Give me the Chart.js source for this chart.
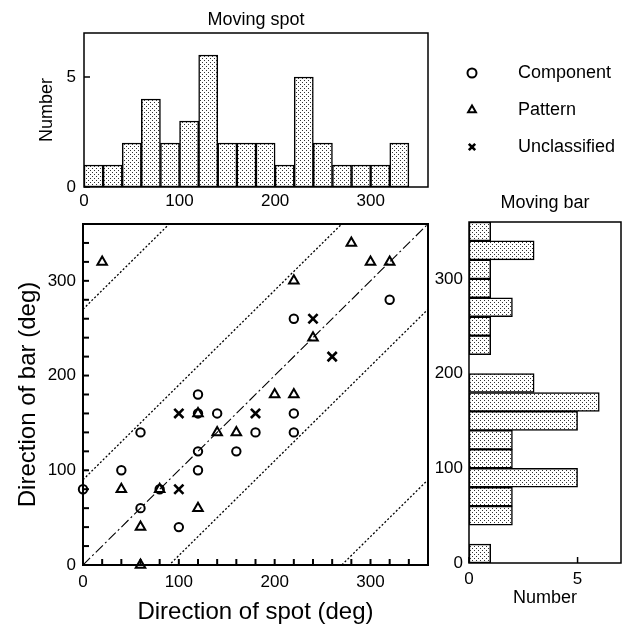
<!DOCTYPE html>
<html>
<head>
<meta charset="utf-8">
<script src="https://cdn.jsdelivr.net/npm/chart.js"></script>
<style>
  body { margin: 0; background: #fff; }
  #wrap { position: relative; width: 631px; height: 630px; background: #fff; }
  canvas { position: absolute; }
</style>
</head>
<body>
<div id="wrap">
  <canvas id="main" width="631" height="630" style="left:0;top:0"></canvas>
  <canvas id="spot" width="440" height="215" style="left:0;top:0"></canvas>
  <canvas id="bar" width="211" height="450" style="left:420px;top:180px"></canvas>
</div>
<script>
// scatter: direction of spot (x) vs direction of bar (y), in deg
const componentSpot = [0, 40, 60, 60, 80, 100, 120, 120, 120, 120, 140, 160, 180, 220, 220, 220, 320];
const componentBar  = [80, 100, 60, 140, 80, 40, 180, 160, 120, 100, 160, 120, 140, 260, 160, 140, 280];
const patternSpot = [20, 40, 60, 60, 80, 120, 120, 140, 160, 200, 220, 220, 240, 280, 300, 320];
const patternBar  = [320, 80, 40, 0, 80, 60, 160, 140, 140, 180, 180, 300, 240, 340, 320, 320];
const unclassSpot = [100, 100, 180, 240, 260];
const unclassBar  = [160, 80, 160, 260, 220];

// reference lines: bar = spot + offset
const lineOffsets = [-270, -90, 90, 270];
const lineEnds = [0, 360];

// histograms, 20 deg bins
const binStarts = [0, 20, 40, 60, 80, 100, 120, 140, 160, 180, 200, 220, 240, 260, 280, 300, 320, 340];
const spotCounts = [1, 1, 2, 4, 2, 3, 6, 2, 2, 2, 1, 5, 2, 1, 1, 1, 2, 0];
const barCounts  = [1, 0, 2, 2, 5, 2, 2, 5, 6, 3, 0, 1, 1, 2, 1, 1, 3, 1];

Chart.defaults.font.family = '"Liberation Sans", Arial, Helvetica, sans-serif';
Chart.defaults.color = '#000';

function stipple() {
  const c = document.createElement('canvas');
  c.width = 4; c.height = 4;
  const g = c.getContext('2d');
  g.fillStyle = '#fff';
  g.fillRect(0, 0, 4, 4);
  g.fillStyle = '#333';
  g.fillRect(0, 0, 1, 1);
  g.fillRect(2, 2, 1, 1);
  return g.createPattern(c, 'repeat');
}
const dots = stipple();

// box round the plot area plus inward tick marks
const framePlugin = {
  id: 'frame',
  afterDatasetsDraw(chart, args, opts) {
    const { ctx, chartArea: a } = chart;
    ctx.save();
    ctx.strokeStyle = '#000';
    ctx.lineWidth = opts.lineWidth || 1.5;
    ctx.strokeRect(a.left, a.top, a.right - a.left, a.bottom - a.top);
    const xs = chart.scales.x, ys = chart.scales.y;
    if (opts.xTick) {
      xs.ticks.forEach(t => {
        const px = xs.getPixelForValue(t.value);
        ctx.beginPath();
        ctx.moveTo(px, a.bottom);
        ctx.lineTo(px, a.bottom - opts.xTick);
        ctx.stroke();
      });
    }
    if (opts.yTick) {
      ys.ticks.forEach(t => {
        const py = ys.getPixelForValue(t.value);
        ctx.beginPath();
        ctx.moveTo(a.left, py);
        ctx.lineTo(a.left + opts.yTick, py);
        ctx.stroke();
      });
    }
    ctx.restore();
  }
};

// legend drawn at fixed spot on the main canvas
const legendPlugin = {
  id: 'sideLegend',
  afterDraw(chart, args, opts) {
    const ctx = chart.ctx;
    ctx.save();
    let y = opts.y;
    chart.data.datasets.forEach(ds => {
      if (!ds.label) return;
      ctx.strokeStyle = '#000';
      ctx.fillStyle = 'rgba(0,0,0,0)';
      ctx.lineWidth = ds.borderWidth;
      Chart.helpers.drawPoint(ctx, {
        pointStyle: ds.pointStyle, radius: opts.radius, rotation: 0, borderWidth: ds.borderWidth
      }, opts.x, y);
      ctx.fillStyle = '#000';
      ctx.font = opts.font;
      ctx.textBaseline = 'middle';
      ctx.fillText(ds.label, opts.textX, y);
      y += opts.dy;
    });
    ctx.restore();
  }
};

function pts(xs, ys) {
  return xs.map((x, i) => ({ x: x, y: ys[i] }));
}

const refLines = lineOffsets.map(o => ({
  type: 'line',
  data: lineEnds.map(x => ({ x: x, y: x + o })),
  borderColor: '#000',
  borderWidth: 1.3,
  borderDash: [2, 2],
  pointRadius: 0,
  fill: false
}));

new Chart(document.getElementById('main'), {
  type: 'scatter',
  data: {
    datasets: [
      {
        label: 'Component',
        data: pts(componentSpot, componentBar),
        pointStyle: 'circle',
        pointRadius: 4.2,
        borderWidth: 2,
        borderColor: '#000',
        backgroundColor: 'rgba(0,0,0,0)',
        clip: false
      },
      {
        label: 'Pattern',
        data: pts(patternSpot, patternBar),
        pointStyle: 'triangle',
        pointRadius: 5.5,
        borderWidth: 2,
        borderColor: '#000',
        backgroundColor: 'rgba(0,0,0,0)',
        clip: false
      },
      {
        label: 'Unclassified',
        data: pts(unclassSpot, unclassBar),
        pointStyle: 'crossRot',
        pointRadius: 6.5,
        borderWidth: 2.6,
        borderColor: '#000',
        clip: false
      },
      {
        type: 'line',
        data: lineEnds.map(x => ({ x: x, y: x })),
        borderColor: '#000',
        borderWidth: 1.1,
        borderDash: [10, 3, 2, 3],
        pointRadius: 0,
        fill: false
      },
      ...refLines
    ]
  },
  options: {
    responsive: false,
    animation: false,
    devicePixelRatio: 1,
    layout: { padding: { left: 0, top: 224, right: 203, bottom: 0 } },
    plugins: {
      legend: { display: false },
      tooltip: { enabled: false },
      frame: { lineWidth: 2, xTick: 6, yTick: 6 },
      sideLegend: { x: 472, textX: 518, y: 73, dy: 37, radius: 4.5, font: '18px "Liberation Sans", Arial, sans-serif' }
    },
    scales: {
      x: {
        type: 'linear', min: 0, max: 360,
        grid: { display: false, drawTicks: false },
        border: { display: false },
        ticks: {
          stepSize: 20, autoSkip: false, maxRotation: 0, padding: 7,
          font: { size: 17 },
          callback: v => (v % 100 === 0 && v < 360 ? v : '')
        },
        title: { display: true, text: 'Direction of spot (deg)', font: { size: 24 }, padding: { top: 0, bottom: 3 } },
        afterFit(s) { s.height = 65; }
      },
      y: {
        type: 'linear', min: 0, max: 360,
        grid: { display: false, drawTicks: false },
        border: { display: false },
        ticks: {
          stepSize: 20, autoSkip: false, padding: 7,
          font: { size: 17 },
          callback: v => (v % 100 === 0 && v < 360 ? v : '')
        },
        title: { display: true, text: 'Direction of bar (deg)', font: { size: 24 }, padding: { top: 14, bottom: 0 } },
        afterFit(s) { s.width = 83; }
      }
    }
  },
  plugins: [framePlugin, legendPlugin]
});

new Chart(document.getElementById('spot'), {
  type: 'bar',
  data: {
    datasets: [{
      data: binStarts.map((b, i) => ({ x: b + 10, y: spotCounts[i] })),
      backgroundColor: dots,
      borderColor: '#000',
      borderWidth: 1.5,
      borderSkipped: false,
      barPercentage: 1,
      categoryPercentage: 1
    }]
  },
  options: {
    responsive: false,
    animation: false,
    devicePixelRatio: 1,
    layout: { padding: { left: 0, top: 0, right: 12, bottom: 0 } },
    plugins: {
      legend: { display: false },
      tooltip: { enabled: false },
      title: {
        display: true, text: 'Moving spot', fullSize: false,
        font: { size: 18, weight: 'normal' }, color: '#000',
        padding: { top: 9, bottom: 2.4 }
      },
      frame: { lineWidth: 1.5, yTick: 6 }
    },
    scales: {
      x: {
        type: 'linear', min: 0, max: 360, offset: false,
        grid: { display: false, drawTicks: false },
        border: { display: false },
        ticks: { stepSize: 100, includeBounds: false, maxRotation: 0, padding: 4, font: { size: 17 } },
        afterFit(s) { s.height = 28; }
      },
      y: {
        type: 'linear', min: 0, max: 7,
        grid: { display: false, drawTicks: false },
        border: { display: false },
        ticks: { stepSize: 5, includeBounds: false, padding: 8, font: { size: 17 } },
        title: { display: true, text: 'Number', font: { size: 18 }, padding: { top: 36, bottom: 0 } },
        afterFit(s) { s.width = 84; }
      }
    }
  },
  plugins: [framePlugin]
});

new Chart(document.getElementById('bar'), {
  type: 'bar',
  data: {
    datasets: [{
      data: binStarts.map((b, i) => ({ y: b + 10, x: barCounts[i] })),
      backgroundColor: dots,
      borderColor: '#000',
      borderWidth: 1.5,
      borderSkipped: false,
      barPercentage: 1,
      categoryPercentage: 1
    }]
  },
  options: {
    indexAxis: 'y',
    responsive: false,
    animation: false,
    devicePixelRatio: 1,
    layout: { padding: { left: 0, top: 0, right: 10, bottom: 0 } },
    plugins: {
      legend: { display: false },
      tooltip: { enabled: false },
      title: {
        display: true, text: 'Moving bar', fullSize: false,
        font: { size: 18, weight: 'normal' }, color: '#000',
        padding: { top: 12, bottom: 8.4 }
      },
      frame: { lineWidth: 1.5, xTick: 6 }
    },
    scales: {
      x: {
        type: 'linear', min: 0, max: 7,
        grid: { display: false, drawTicks: false },
        border: { display: false },
        ticks: { stepSize: 5, includeBounds: false, padding: 6, maxRotation: 0, font: { size: 17 } },
        title: { display: true, text: 'Number', font: { size: 18 }, padding: { top: 0, bottom: 21 } },
        afterFit(s) { s.height = 67; }
      },
      y: {
        type: 'linear', min: 0, max: 360, offset: false,
        grid: { display: false, drawTicks: false },
        border: { display: false },
        ticks: { stepSize: 100, includeBounds: false, padding: 6, font: { size: 17 } },
        afterFit(s) { s.width = 49; }
      }
    }
  },
  plugins: [framePlugin]
});
</script>
</body>
</html>
